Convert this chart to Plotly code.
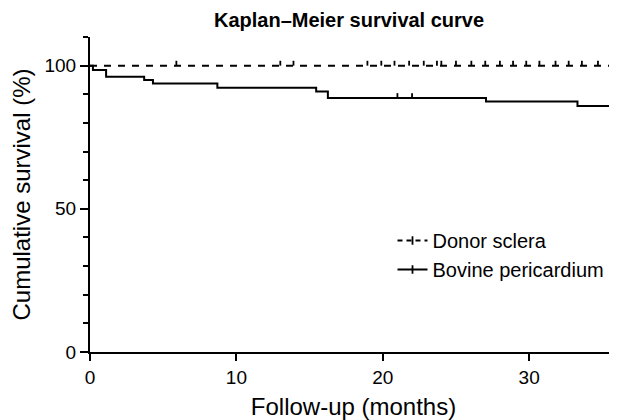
import plotly.graph_objects as go

# Bovine pericardium (step curve: event times / survival)
bovine_time = [0, 0.2, 1.1, 3.7, 4.3, 8.7, 15.45, 16.25, 27.05, 33.3, 36]
bovine_surv = [100, 98.5, 96.1, 95.0, 93.8, 92.3, 91.0, 88.7, 87.5, 85.9, 85.9]
bovine_cens_time = [21.0, 22.0, 36.0]
bovine_cens_surv = [88.7, 88.7, 85.9]

# Donor sclera (no events)
donor_time = [0, 36]
donor_surv = [100, 100]
donor_cens_time = [5.9, 13.0, 13.9, 18.95, 19.9, 20.8, 21.8, 22.8, 23.7,
                   24.0, 25.0, 26.05, 27.0, 28.0, 28.9, 29.8, 30.7, 31.8,
                   32.7, 33.6, 34.7, 35.6, 36.0]
donor_cens_surv = [100] * len(donor_cens_time)

FONT = "Arial, Liberation Sans, sans-serif"
TICK_UP = 1.7

fig = go.Figure()

fig.add_trace(go.Scatter(x=donor_time, y=donor_surv, mode="lines", line_shape="hv",
                         line=dict(color="black", width=2, dash="7px,7px"),
                         showlegend=False, hoverinfo="skip"))
fig.add_trace(go.Scatter(x=bovine_time, y=bovine_surv, mode="lines", line_shape="hv",
                         line=dict(color="black", width=2),
                         showlegend=False, hoverinfo="skip"))

for t, s in [(donor_cens_time, donor_cens_surv), (bovine_cens_time, bovine_cens_surv)]:
    fig.add_trace(go.Scatter(x=t, y=s, mode="markers", marker=dict(size=0.1, color="black"),
                             error_y=dict(type="data", symmetric=False,
                                          array=[TICK_UP] * len(t), arrayminus=[0] * len(t),
                                          width=0, thickness=1.8, color="black"),
                             showlegend=False, hoverinfo="skip", cliponaxis=False))

# legend entries
fig.add_trace(go.Scatter(x=[None], y=[None], mode="lines+markers", name="Donor sclera",
                         line=dict(color="black", width=2, dash="5px,4px"),
                         marker=dict(symbol="line-ns-open", size=6, line=dict(width=1.8, color="black"))))
fig.add_trace(go.Scatter(x=[None], y=[None], mode="lines+markers", name="Bovine pericardium",
                         line=dict(color="black", width=2),
                         marker=dict(symbol="line-ns-open", size=6, line=dict(width=1.8, color="black"))))

# page body has an 8px margin: size the figure so the plot area lands at x 90-617, y 37-352
fig.update_layout(
    width=609, height=412,
    margin=dict(l=82, r=0, t=29, b=68, autoexpand=False),
    paper_bgcolor="white", plot_bgcolor="white",
    font=dict(family=FONT, size=20, color="black"),
    title=dict(text="<b>Kaplan–Meier survival curve</b>", x=0.56, xanchor="center",
               y=0.972, yanchor="middle", font=dict(size=20)),
    legend=dict(x=0.574, y=0.416, xanchor="left", yanchor="top",
                bgcolor="rgba(0,0,0,0)", font=dict(size=20), tracegroupgap=0,
                itemwidth=30),
    showlegend=True,
)
fig.update_xaxes(range=[0, 36], tickvals=[0, 10, 20, 30], ticks="outside", ticklen=7,
                 tickwidth=2, tickcolor="black", showline=True, linecolor="black", linewidth=2,
                 showgrid=False, zeroline=False, automargin=False,
                 title=dict(text="Follow-up (months)", standoff=12),
                 tickfont=dict(size=19))
fig.update_yaxes(range=[0, 110], tickvals=[0, 50, 100], ticks="outside", ticklen=8,
                 tickwidth=2, tickcolor="black", showline=True, linecolor="black", linewidth=2,
                 showgrid=False, zeroline=False, automargin=False,
                 minor=dict(dtick=10, tick0=0, ticks="outside", ticklen=5, tickwidth=2,
                            tickcolor="black", showgrid=False),
                 title=dict(text="Cumulative survival (%)", standoff=14),
                 tickfont=dict(size=19))

fig.write_html("out.html")
